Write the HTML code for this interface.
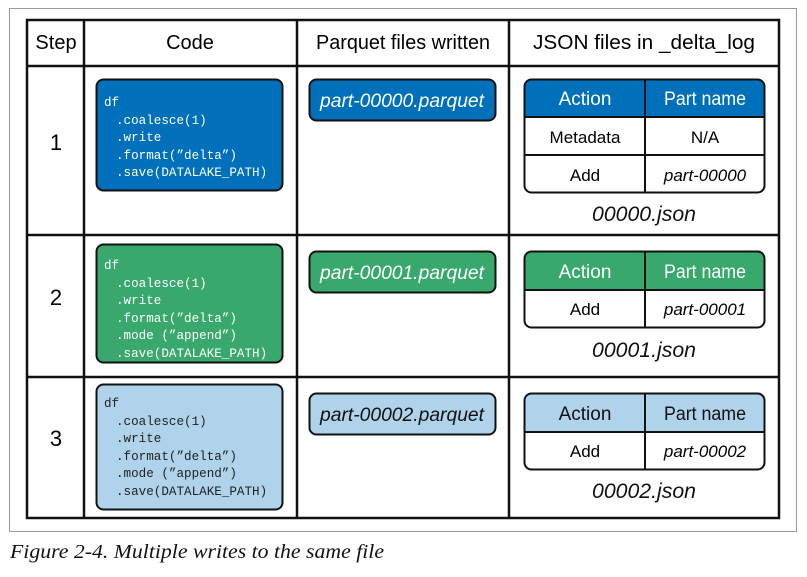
<!DOCTYPE html>
<html><head><meta charset="utf-8"><style>
body{margin:0;background:#fff;width:807px;height:577px;overflow:hidden}
svg{display:block}
.h{font-family:"Liberation Sans",sans-serif;font-size:20px;text-anchor:middle}
.c{font-family:"Liberation Mono","DejaVu Sans Mono",monospace;font-size:12.6px}
.p{font-family:"Liberation Sans",sans-serif;font-size:19px;font-style:italic;text-anchor:middle}
.t{font-family:"Liberation Sans",sans-serif;font-size:17px;text-anchor:middle}
.n{font-family:"Liberation Sans",sans-serif;font-size:22px;text-anchor:middle}
</style></head><body>
<svg width="807" height="577" viewBox="0 0 807 577">
<rect x="9.5" y="8.5" width="787" height="523" fill="#fff" stroke="#999" stroke-width="1"/>
<g stroke="#111" stroke-width="2.5" fill="none">
<rect x="27" y="20" width="752" height="498"/>
<line x1="84" y1="20" x2="84" y2="518"/><line x1="297" y1="20" x2="297" y2="518"/><line x1="509" y1="20" x2="509" y2="518"/>
<line x1="27" y1="66" x2="779" y2="66"/><line x1="27" y1="235" x2="779" y2="235"/><line x1="27" y1="377" x2="779" y2="377"/>
</g>
<text class="h" x="56" y="49">Step</text><text class="h" x="190" y="49">Code</text><text class="h" x="403" y="49" textLength="174" lengthAdjust="spacingAndGlyphs">Parquet files written</text><text class="h" x="644" y="49" textLength="222" lengthAdjust="spacingAndGlyphs">JSON files in _delta_log</text>
<text class="n" x="56" y="150">1</text><text class="n" x="56" y="305">2</text><text class="n" x="56" y="446">3</text>
<!-- code boxes -->
<rect x="96.5" y="79.5" width="186" height="111" rx="7" fill="#0070bb" stroke="#111" stroke-width="2"/>
<g class="c" fill="#fff"><text x="104" y="106">df</text><text x="116" y="124">.coalesce(1)</text><text x="116" y="141">.write</text><text x="116" y="159">.format(”delta”)</text><text x="116" y="176">.save(DATALAKE_PATH)</text></g>
<rect x="96.5" y="244.5" width="186" height="118" rx="7" fill="#38a86c" stroke="#111" stroke-width="2"/>
<g class="c" fill="#fff"><text x="104" y="269">df</text><text x="116" y="287">.coalesce(1)</text><text x="116" y="304">.write</text><text x="116" y="322">.format(”delta”)</text><text x="116" y="339">.mode (”append”)</text><text x="116" y="357">.save(DATALAKE_PATH)</text></g>
<rect x="96.5" y="384.5" width="186" height="125" rx="7" fill="#aed3ea" stroke="#111" stroke-width="2"/>
<g class="c" fill="#222"><text x="104" y="407">df</text><text x="116" y="425">.coalesce(1)</text><text x="116" y="442">.write</text><text x="116" y="460">.format(”delta”)</text><text x="116" y="477">.mode (”append”)</text><text x="116" y="495">.save(DATALAKE_PATH)</text></g>
<!-- parquet -->
<rect x="309.5" y="79.5" width="186" height="41" rx="7" fill="#0070bb" stroke="#111" stroke-width="2"/>
<text class="p" x="402" y="107" fill="#fff" textLength="164" lengthAdjust="spacingAndGlyphs">part-00000.parquet</text>
<rect x="309.5" y="251.5" width="186" height="41" rx="7" fill="#38a86c" stroke="#111" stroke-width="2"/>
<text class="p" x="402" y="279" fill="#fff" textLength="164" lengthAdjust="spacingAndGlyphs">part-00001.parquet</text>
<rect x="309.5" y="393.5" width="186" height="41" rx="7" fill="#aed3ea" stroke="#111" stroke-width="2"/>
<text class="p" x="402" y="421" fill="#111" textLength="164" lengthAdjust="spacingAndGlyphs">part-00002.parquet</text>
<!-- json 1 -->
<path d="M524.5 117V86.5a7 7 0 0 1 7-7h226a7 7 0 0 1 7 7V117z" fill="#0070bb"/>
<rect x="524.5" y="79.5" width="240" height="113" rx="7" fill="none" stroke="#111" stroke-width="2"/>
<g stroke="#111" stroke-width="2"><line x1="645" y1="79.5" x2="645" y2="192.5"/><line x1="524.5" y1="117" x2="764.5" y2="117"/><line x1="524.5" y1="155" x2="764.5" y2="155"/></g>
<text class="t" x="585" y="105" fill="#fff" style="font-size:19px">Action</text><text class="t" x="705" y="105" fill="#fff" style="font-size:19px" textLength="82" lengthAdjust="spacingAndGlyphs">Part name</text>
<text class="t" x="585" y="143">Metadata</text><text class="t" x="705" y="143">N/A</text>
<text class="t" x="585" y="181">Add</text><text class="t" x="705" y="181" font-style="italic">part-00000</text>
<text class="p" x="644" y="221" fill="#111" style="font-size:21px" textLength="104" lengthAdjust="spacingAndGlyphs">00000.json</text>
<!-- json 2 -->
<path d="M524.5 290V258.5a7 7 0 0 1 7-7h226a7 7 0 0 1 7 7V290z" fill="#38a86c"/>
<rect x="524.5" y="251.5" width="240" height="76" rx="7" fill="none" stroke="#111" stroke-width="2"/>
<g stroke="#111" stroke-width="2"><line x1="645" y1="251.5" x2="645" y2="327.5"/><line x1="524.5" y1="290" x2="764.5" y2="290"/></g>
<text class="t" x="585" y="278" fill="#fff" style="font-size:19px">Action</text><text class="t" x="705" y="278" fill="#fff" style="font-size:19px" textLength="82" lengthAdjust="spacingAndGlyphs">Part name</text>
<text class="t" x="585" y="315">Add</text><text class="t" x="705" y="315" font-style="italic">part-00001</text>
<text class="p" x="644" y="357" fill="#111" style="font-size:21px" textLength="104" lengthAdjust="spacingAndGlyphs">00001.json</text>
<!-- json 3 -->
<path d="M524.5 432V400.5a7 7 0 0 1 7-7h226a7 7 0 0 1 7 7V432z" fill="#aed3ea"/>
<rect x="524.5" y="393.5" width="240" height="76" rx="7" fill="none" stroke="#111" stroke-width="2"/>
<g stroke="#111" stroke-width="2"><line x1="645" y1="393.5" x2="645" y2="469.5"/><line x1="524.5" y1="432" x2="764.5" y2="432"/></g>
<text class="t" x="585" y="420" fill="#111" style="font-size:19px">Action</text><text class="t" x="705" y="420" fill="#111" style="font-size:19px" textLength="82" lengthAdjust="spacingAndGlyphs">Part name</text>
<text class="t" x="585" y="457">Add</text><text class="t" x="705" y="457" font-style="italic">part-00002</text>
<text class="p" x="644" y="498" fill="#111" style="font-size:21px" textLength="104" lengthAdjust="spacingAndGlyphs">00002.json</text>
<text x="10" y="558" font-family="Liberation Serif, serif" font-style="italic" font-size="19.5" fill="#111" textLength="374" lengthAdjust="spacingAndGlyphs">Figure 2-4. Multiple writes to the same file</text>
</svg>
</body></html>
